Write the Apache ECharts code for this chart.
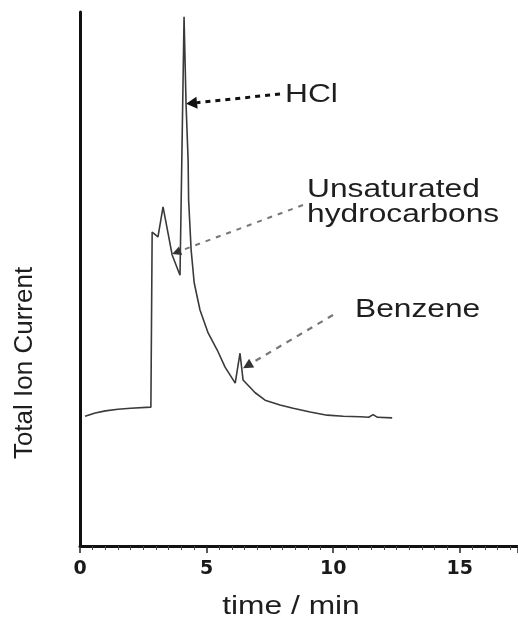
<!DOCTYPE html>
<html>
<head>
<meta charset="utf-8">
<script src="https://cdn.jsdelivr.net/npm/echarts@6/dist/echarts.min.js"></script>
<style>
  html, body { margin: 0; padding: 0; background: #fff; }
  #main { width: 518px; height: 619px; }
</style>
</head>
<body>
<div id="main"></div>
<script>
// chromatogram trace (time in min, current in arbitrary units 0..100)
var times = [0.2, 0.6, 1.0, 1.5, 2.0, 2.8, 2.85, 3.08, 3.28, 3.64, 3.95, 4.08, 4.11, 4.19, 4.27, 4.29, 4.39, 4.51, 4.74, 5.06, 5.42, 5.73, 6.13, 6.2, 6.32, 6.44, 6.92, 7.31, 7.9, 8.42, 9.09, 9.76, 10.4, 11.07, 11.4, 11.58, 11.75, 12.33];
var ionCurrent = [24.3, 24.9, 25.3, 25.6, 25.8, 26.0, 58.8, 57.9, 63.5, 54.5, 50.7, 90, 99.1, 82.6, 72.3, 64.8, 55.4, 49.3, 44.2, 39.9, 36.7, 33.5, 30.5, 30.3, 36.1, 31.1, 28.7, 27.3, 26.4, 25.8, 25.1, 24.5, 24.3, 24.2, 24.1, 24.6, 24.1, 24.0];

// peak annotations: label, where the arrow points (time, current)
var peakNames = ['HCl', 'Unsaturated\nhydrocarbons', 'Benzene'];
var peakTimes = [4.19, 3.64, 6.44];
var peakLevels = [82.8, 54.7, 33.3];

var myChart = echarts.init(document.getElementById('main'));

var data = [];
times.forEach(function (t, i) {
    data.push([t, ionCurrent[i]]);
});

var option = {
    animation: false,
    backgroundColor: '#fff',
    grid: {
        left: 80,
        right: 0,
        top: 12,
        bottom: 73
    },
    xAxis: {
        type: 'value',
        min: 0,
        max: 17.3,
        interval: 5,
        axisLine: {
            show: true,
            onZero: false,
            lineStyle: { color: '#111', width: 3 }
        },
        axisTick: {
            show: true,
            inside: false,
            length: 7,
            lineStyle: { color: '#222', width: 1.5 }
        },
        minorTick: {
            show: true,
            splitNumber: 10,
            length: 4,
            lineStyle: { color: '#444', width: 1 }
        },
        axisLabel: {
            margin: 14,
            color: '#1a1a1a',
            fontFamily: 'DejaVu Sans',
            fontWeight: 'bold',
            fontSize: 19,
            showMaxLabel: false
        },
        splitLine: { show: false }
    },
    yAxis: {
        type: 'value',
        min: 0,
        max: 100,
        axisLine: {
            show: true,
            lineStyle: { color: '#111', width: 3 }
        },
        axisTick: { show: false },
        axisLabel: { show: false },
        splitLine: { show: false }
    },
    series: [{
        type: 'line',
        data: data,
        showSymbol: false,
        symbol: 'none',
        smooth: false,
        lineStyle: { color: '#3a3a3a', width: 1.6 }
    }]
};
myChart.setOption(option);

// text tails of the arrows and label anchors (pixels)
var tails = [[280, 94], [303, 205], [333, 315]];
var labelPos = [[285, 95], [307, 202], [355, 310]];
var arrowStyle = [
    { color: '#111', width: 3, dash: [5, 5], len: 11, half: 6 },
    { color: '#777', width: 2, dash: [5, 6], len: 9, half: 4.5 },
    { color: '#777', width: 2.2, dash: [6, 6], len: 10, half: 5 }
];

var elements = [];
peakNames.forEach(function (name, i) {
    var tip = myChart.convertToPixel({ gridIndex: 0 }, [peakTimes[i], peakLevels[i]]);
    var tail = tails[i];
    var dx = tip[0] - tail[0], dy = tip[1] - tail[1];
    var d = Math.sqrt(dx * dx + dy * dy);
    var ux = dx / d, uy = dy / d;
    var s = arrowStyle[i];
    var bx = tip[0] - ux * s.len, by = tip[1] - uy * s.len;
    elements.push({
        type: 'line',
        shape: { x1: tail[0], y1: tail[1], x2: bx, y2: by },
        style: { stroke: s.color, lineWidth: s.width, lineDash: s.dash }
    });
    elements.push({
        type: 'polygon',
        shape: {
            points: [
                [tip[0], tip[1]],
                [bx - uy * s.half, by + ux * s.half],
                [bx + uy * s.half, by - ux * s.half]
            ]
        },
        style: { fill: i === 0 ? '#111' : '#333' }
    });
    elements.push({
        type: 'text',
        x: labelPos[i][0],
        y: labelPos[i][1],
        scaleX: 1.22,
        style: {
            text: name,
            font: '26px "Liberation Sans", Arial, sans-serif',
            fill: '#1e1e1e',
            textAlign: 'left',
            textVerticalAlign: 'middle',
            lineHeight: 25
        }
    });
});

// axis titles
elements.push({
    type: 'text',
    x: 291,
    y: 607,
    scaleX: 1.22,
    style: {
        text: 'time / min',
        font: '26px "Liberation Sans", Arial, sans-serif',
        fill: '#1e1e1e',
        textAlign: 'center',
        textVerticalAlign: 'middle'
    }
});
elements.push({
    type: 'text',
    x: 25,
    y: 363,
    rotation: Math.PI / 2,
    style: {
        text: 'Total Ion Current',
        font: '26px "Liberation Sans", Arial, sans-serif',
        fill: '#1e1e1e',
        textAlign: 'center',
        textVerticalAlign: 'middle'
    }
});

myChart.setOption({ graphic: { elements: elements } });
</script>
</body>
</html>
